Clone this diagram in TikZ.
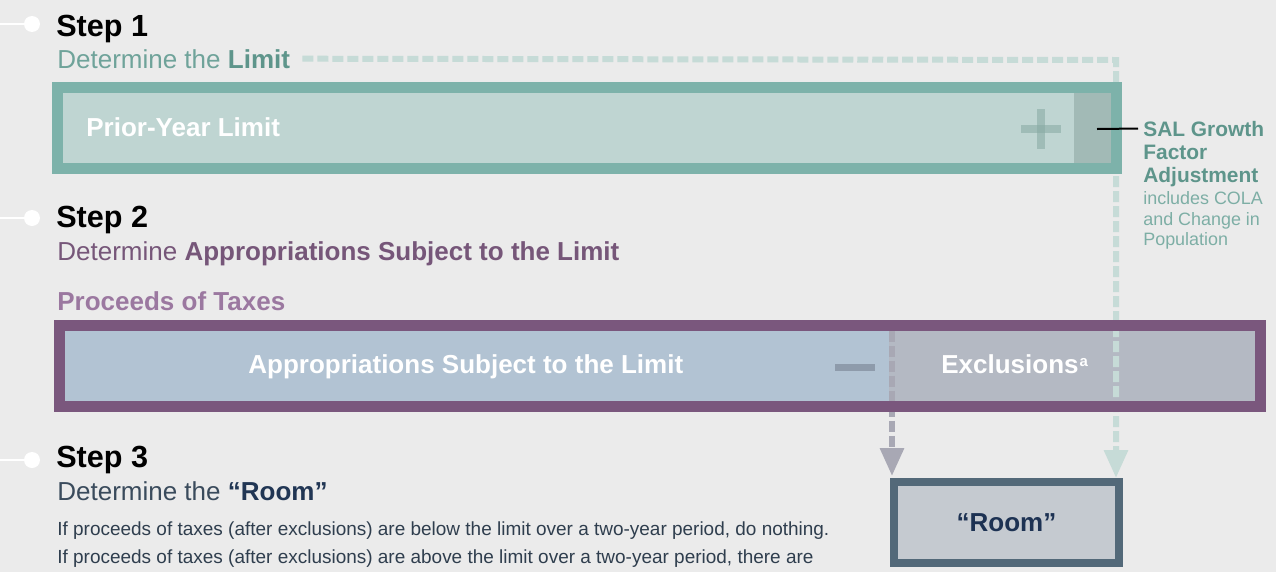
\documentclass[tikz,border=0pt]{standalone}
\usepackage{fontspec}
\setmainfont{Liberation Sans}
\usetikzlibrary{arrows.meta}
\definecolor{bgc}{HTML}{EBEBEB}
\definecolor{tealframe}{HTML}{7DB2AA}
\definecolor{tealfill}{HTML}{BFD5D2}
\definecolor{salfill}{HTML}{A2BAB6}
\definecolor{plusc}{HTML}{86A9A2}
\definecolor{tealtext}{HTML}{6FA39A}
\definecolor{tealbold}{HTML}{5E958B}
\definecolor{teallight}{HTML}{7DAEA5}
\definecolor{tealdashc}{HTML}{C6DBD7}
\definecolor{purpleframe}{HTML}{7A577D}
\definecolor{purpletext}{HTML}{765679}
\definecolor{proceedsc}{HTML}{9B78A0}
\definecolor{aslfill}{HTML}{B2C3D3}
\definecolor{exclfill}{HTML}{B4B9C3}
\definecolor{minusc}{HTML}{8E9BAB}
\definecolor{graydashc}{HTML}{A8A8B4}
\definecolor{roomframe}{HTML}{536979}
\definecolor{roomfill}{HTML}{C5CAD0}
\definecolor{roomtext}{HTML}{1D3253}
\definecolor{stepthree}{HTML}{3A4B5C}
\definecolor{bodyc}{HTML}{2F3E4E}

\begin{document}
\begin{tikzpicture}[x=0.02cm,y=-0.02cm]
		\tikzset{txt/.style = {anchor = base west,inner sep = 0pt},
			stephead/.style = {txt,text = black,font = \fontsize{17.4}{20}\selectfont\bfseries},
			subhead/.style = {txt,font = \fontsize{14.8}{17}\selectfont},
			boxlabel/.style = {txt,text = white,font = \fontsize{14.8}{17}\selectfont\bfseries},
			salbold/.style = {txt,text = tealbold,font = \fontsize{11.9}{13}\selectfont\bfseries},
			sallight/.style = {txt,text = teallight,font = \fontsize{10.2}{12}\selectfont},
			bodytext/.style = {txt,text = bodyc,font = \fontsize{10.8}{13}\selectfont},
			dashline/.style = {line width = 0.12cm,dash pattern = on 0.22cm off 0.08cm,
				-{Triangle[length = 0.56cm,width = 0.46cm]}}}
		\fill[bgc] (0,0) rectangle (1276,572);
		\useasboundingbox (0,0) rectangle (1276,572);
		% step markers
		\foreach \y in {24,218,460}{
			\draw[white,line width = 0.04cm] (0,\y) -- (32,\y);
			\fill[white] (32,\y) circle (0.16cm);
		}
		\node[stephead] (S1) at (56,36){Step 1};
		\node[subhead,text = tealtext] (L) at (57,68){Determine the \textcolor{tealbold}{\bfseries Limit}};
		\node[stephead] (S2) at (56,227){Step 2};
		\node[subhead,text = purpletext] (A) at (57,260){Determine \textbf{Appropriations Subject to the Limit}};
		\node[txt,text = proceedsc,font = \fontsize{14.8}{17}\selectfont\bfseries] (P) at (57,310){Proceeds of Taxes};
		\node[stephead] (S3) at (56,467){Step 3};
		\node[subhead,text = stepthree] (R) at (57,500){Determine the \textcolor{roomtext!85!stepthree}{\bfseries “Room”}};
		\node[bodytext] (T1) at (57,535){If proceeds of taxes (after exclusions) are below the limit over a two-year period, do nothing.};
		\node[bodytext] (T2) at (57,563){If proceeds of taxes (after exclusions) are above the limit over a two-year period, there are};
		% fills
		\fill[tealfill] (57.5,87.5) rectangle (1116.5,168.5);
		\fill[salfill] (1074,93) rectangle (1111,164);
		\fill[plusc,fill opacity = 0.55] (1021,125) rectangle (1061,133);
		\fill[plusc,fill opacity = 0.55] (1037,109) rectangle (1045,149);
		\fill[exclfill] (59.5,325.5) rectangle (1260.5,406.5);
		\fill[aslfill] (59.5,325.5) rectangle (889,406.5);
		\fill[minusc] (835,364) rectangle (875,371);
		\node[boxlabel] (PY) at (86,136){Prior-Year Limit};
		\node[boxlabel] (ASL) at (248,373){Appropriations Subject to the Limit};
		\node[boxlabel] (EX) at (941,373){Exclusions\kern0.5pt\raisebox{3.6pt}{\fontsize{8.5}{9}\selectfont a}};
		\node[draw = roomframe,fill = roomfill,line width = 0.16cm,minimum width = 4.5cm,minimum height = 1.62cm,
			text = roomtext,font = \fontsize{14.8}{17}\selectfont\bfseries] (Room) at (1006.5,522.5){“Room”};
		% dashed connectors
		\coordinate (C) at (1116,60);
		\coordinate (D) at (892,331);
		\draw[dashline,tealdashc] ([xshift = 0.24cm]L.east) -- (C) -- (C |- Room.north);
		\draw[dashline,graydashc,shorten > = 0.04cm] (D) -- (D |- Room.north);
		% frames
		\draw[tealframe,line width = 0.22cm] (57.5,87.5) rectangle (1116.5,168.5);
		\draw[purpleframe,line width = 0.22cm] (59.5,325.5) rectangle (1260.5,406.5);
		% SAL label
		\node[salbold] (G1) at (1143,136){SAL Growth};
		\node[salbold] (G2) at (1143,159){Factor};
		\node[salbold] (G3) at (1143,182){Adjustment};
		\node[sallight] (G4) at (1143,204){includes COLA};
		\node[sallight] (G5) at (1143,225){and Change in};
		\node[sallight] (G6) at (1143,245){Population};
		\coordinate (K) at (1097,129);
		\draw[black,line width = 0.04cm] (K) -- ([xshift = -0.1cm]G1.west);
	\end{tikzpicture}
\end{document}
